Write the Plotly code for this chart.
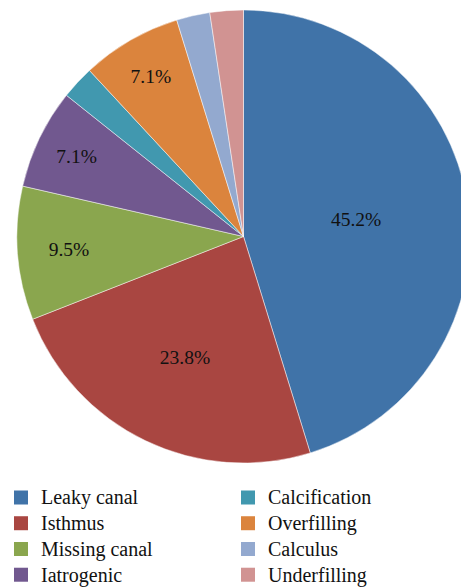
import plotly.graph_objects as go

categories = ["Leaky canal", "Isthmus", "Missing canal", "Iatrogenic",
              "Calcification", "Overfilling", "Calculus", "Underfilling"]
counts = [19, 10, 4, 3, 1, 3, 1, 1]
colors = ["#4073A8", "#A94641", "#8AA64E", "#71588F",
          "#4198AF", "#DB843D", "#93A9CF", "#D19392"]

total = sum(counts)
pct_text = [f"{c / total * 100:.1f}%" if c / total > 0.05 else "" for c in counts]

W, H = 487, 587
top, bottom = 10, 463

fig = go.Figure()
fig.add_trace(go.Pie(
    labels=categories, values=counts, sort=False, direction="clockwise",
    rotation=0, text=pct_text, textinfo="text", textposition="inside",
    insidetextorientation="horizontal",
    textfont=dict(family="Liberation Serif", size=19.5, color="#111111"),
    marker=dict(colors=colors, line=dict(color="rgba(255,255,255,0.6)", width=0.8)),
    domain=dict(x=[0, 1], y=[(H - bottom) / H, (H - top) / H]),
    showlegend=False, hoverinfo="label+percent",
))

# legend entries in two columns
col1 = categories[:4]
for i, name in enumerate(categories):
    fig.add_trace(go.Scatter(
        x=[None], y=[None], mode="markers",
        name=f'<span style="font-size:20px">{name}</span>',
        marker=dict(symbol="square", size=14, color=colors[i]),
        legend="legend" if name in col1 else "legend2",
        showlegend=True,
    ))

legend_font = dict(family="Liberation Serif", size=17.5, color="#111111")
legend_top = 479.6
fig.update_layout(
    width=W, height=H,
    margin=dict(l=0, r=0, t=0, b=0, autoexpand=False),
    paper_bgcolor="white", plot_bgcolor="white",
    xaxis=dict(visible=False), yaxis=dict(visible=False),
    legend=dict(x=1 / W, y=(H - legend_top) / H, xanchor="left", yanchor="top",
                font=legend_font, bgcolor="rgba(0,0,0,0)", tracegroupgap=0,
                itemsizing="trace"),
    legend2=dict(x=228 / W, y=(H - legend_top) / H, xanchor="left", yanchor="top",
                 font=legend_font, bgcolor="rgba(0,0,0,0)", tracegroupgap=0,
                 itemsizing="trace"),
)

post = (
    "document.documentElement.style.overflow='hidden';"
    "document.body.style.margin='0';document.body.style.overflow='hidden';"
    "var gd=document.getElementById('{plot_id}');"
    "var p=gd.parentElement;p.style.width='461px';p.style.height='587px';p.style.overflow='hidden';"
)
fig.write_html("out.html", config={"displayModeBar": False}, post_script=post)
